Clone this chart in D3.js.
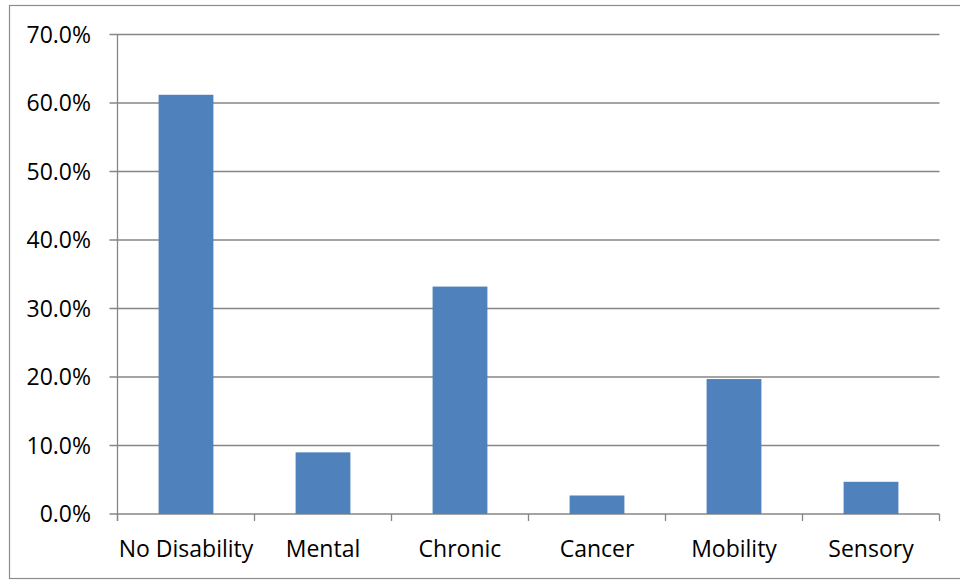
<!DOCTYPE html>
<html>
<head>
<meta charset="utf-8">
<script src="https://cdn.jsdelivr.net/npm/d3@7"></script>
<style>
  body { margin: 0; background: #fff; }
  svg text { font-family: "Open Sans", Lato, sans-serif; fill: #000; }
</style>
</head>
<body>
<div id="chart"></div>
<script>
// data
var categories = ["No Disability", "Mental", "Chronic", "Cancer", "Mobility", "Sensory"];
var values = [61.2, 9.0, 33.2, 2.7, 19.7, 4.7];
var yTicks = [0, 10, 20, 30, 40, 50, 60, 70];

var W = 960, H = 581;
var margin = {top: 34.5, right: 20.5, bottom: 67, left: 117.5},
    width = W - margin.left - margin.right,
    height = H - margin.top - margin.bottom;

var svg = d3.select("#chart").append("svg")
  .attr("width", W)
  .attr("height", H);

// outer frame
svg.append("rect")
  .attr("x", 9.5).attr("y", 5.5)
  .attr("width", W).attr("height", 573)
  .attr("fill", "none")
  .attr("stroke", "#8c8c8c")
  .attr("stroke-width", 1.2);

var g = svg.append("g")
  .attr("transform", "translate(" + margin.left + "," + margin.top + ")");

var x = d3.scaleBand()
  .domain(categories)
  .range([0, width])
  .paddingInner(0.6)
  .paddingOuter(0.3);

var y = d3.scaleLinear()
  .domain([0, 70])
  .range([height, 0]);

// gridlines
g.append("g")
  .selectAll("line")
  .data(yTicks)
  .enter().append("line")
  .attr("x1", -8).attr("x2", width)
  .attr("y1", function(d) { return y(d); })
  .attr("y2", function(d) { return y(d); })
  .attr("stroke", "#868686")
  .attr("stroke-width", 1.3);

// y axis line
g.append("line")
  .attr("x1", 0).attr("x2", 0)
  .attr("y1", 0).attr("y2", height + 7)
  .attr("stroke", "#868686")
  .attr("stroke-width", 1.3);

// y labels
g.append("g")
  .selectAll("text")
  .data(yTicks)
  .enter().append("text")
  .attr("x", -26.5)
  .attr("y", function(d) { return y(d); })
  .attr("dy", "0.35em")
  .attr("text-anchor", "end")
  .attr("font-size", "23px")
  .text(function(d) { return d3.format(".1f")(d) + "%"; });

// bars
g.append("g")
  .selectAll("rect")
  .data(values)
  .enter().append("rect")
  .attr("x", function(d, i) { return x(categories[i]); })
  .attr("y", function(d) { return y(d); })
  .attr("width", x.bandwidth())
  .attr("height", function(d) { return height - y(d); })
  .attr("fill", "#4f81bd");

// x axis ticks at category boundaries
var step = width / categories.length;
g.append("g")
  .selectAll("line")
  .data(d3.range(categories.length + 1))
  .enter().append("line")
  .attr("x1", function(d) { return d * step; })
  .attr("x2", function(d) { return d * step; })
  .attr("y1", height).attr("y2", height + 7)
  .attr("stroke", "#868686")
  .attr("stroke-width", 1.3);

// x labels
g.append("g")
  .selectAll("text")
  .data(categories)
  .enter().append("text")
  .attr("x", function(d) { return x(d) + x.bandwidth() / 2; })
  .attr("y", height + 35)
  .attr("dy", "0.35em")
  .attr("text-anchor", "middle")
  .attr("font-size", "23px")
  .text(function(d) { return d; });
</script>
</body>
</html>
